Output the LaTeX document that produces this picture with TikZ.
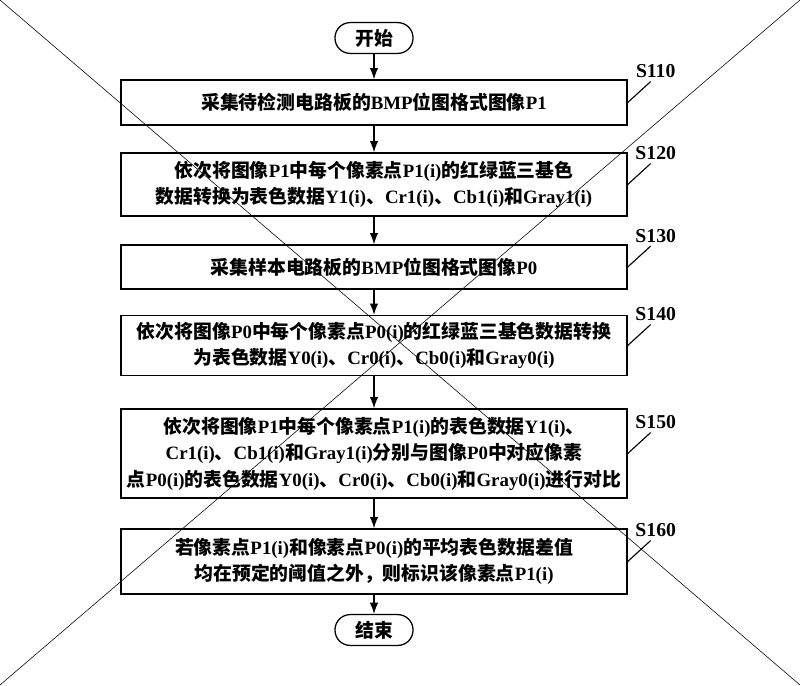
\documentclass[tikz,border=0pt]{standalone}
\usepackage{fontspec}
\setmainfont{Liberation Serif}
\newfontfamily\cjk{Noto Sans CJK SC}
\usetikzlibrary{arrows.meta,calc}
% switch to the CJK font for Chinese characters
\XeTeXinterchartokenstate=1
\chardef\hanzi=10
\newcount\hz
\def\hzrange#1#2{\hz=#1\relax\loop\XeTeXcharclass\hz=\hanzi\advance\hz by 1\relax\ifnum\hz<#2\repeat}
\hzrange{"3000}{"3040}
\hzrange{"4E00}{"A000}
\hzrange{"FF00}{"FFF0}
\XeTeXinterchartoks 0 \hanzi = {\cjk}
\XeTeXinterchartoks 4095 \hanzi = {\cjk}
\XeTeXinterchartoks \hanzi 0 = {\rmfamily}
\XeTeXinterchartoks 4095 0 = {\rmfamily}
\begin{document}
\begin{tikzpicture}[x=0.025cm,y=-0.025cm,
  stepbox/.style={draw,line width=0.9pt,minimum width=12.65cm,align=center,
    inner xsep=2pt,font=\fontsize{13.4pt}{18.8pt}\selectfont\bfseries},
  term/.style={draw,line width=0.9pt,rounded corners=0.38cm,minimum width=1.95cm,
    minimum height=0.77cm,font=\fontsize{13.4pt}{18pt}\selectfont\bfseries},
  flow/.style={-{Latex[length=8pt,width=6pt]},line width=0.9pt},
  lead/.style={line width=0.8pt},
  tag/.style={font=\fontsize{14pt}{16pt}\selectfont\bfseries,anchor=south,inner sep=1pt}]
\useasboundingbox (0,0) coordinate (tl) rectangle (800,685) coordinate (br);
\coordinate (tr) at (800,0);
\coordinate (bl) at (0,685);
\node[term] (start) at (374,38) {开始};
\node[stepbox,minimum height=1.125cm] (s110) at (374,102.5) {采集待检测电路板的BMP位图格式图像P1};
\node[stepbox,minimum height=1.575cm] (s120) at (374,184.5) {依次将图像P1中每个像素点P1(i)的红绿蓝三基色\\数据转换为表色数据Y1(i)、Cr1(i)、Cb1(i)和Gray1(i)};
\node[stepbox,minimum height=1.1cm] (s130) at (374,267) {采集样本电路板的BMP位图格式图像P0};
\node[stepbox,minimum height=1.5cm] (s140) at (374,345.5) {依次将图像P0中每个像素点P0(i)的红绿蓝三基色数据转换\\为表色数据Y0(i)、Cr0(i)、Cb0(i)和Gray0(i)};
\node[stepbox,minimum height=2.225cm] (s150) at (374,453.5) {依次将图像P1中每个像素点P1(i)的表色数据Y1(i)、\\Cr1(i)、Cb1(i)和Gray1(i)分别与图像P0中对应像素\\点P0(i)的表色数据Y0(i)、Cr0(i)、Cb0(i)和Gray0(i)进行对比};
\node[stepbox,minimum height=1.625cm] (s160) at (374,561.5) {若像素点P1(i)和像素点P0(i)的平均表色数据差值\\均在预定的阈值之外，则标识该像素点P1(i)};
\node[term] (stop) at (374,630) {结束};
\foreach \a/\b in {start/s110,s110/s120,s120/s130,s130/s140,s140/s150,s150/s160,s160/stop}
  \draw[flow] (\a) -- (\b);
\foreach \s in {110,120,130,140,150,160} {
  \draw[lead] (s\s.east) -- ++(23,-21) coordinate (c\s);
  \node[tag] (l\s) at ($(c\s)+(5,-2)$) {S\s};
}
% the cross over the sheet
\draw[line width=0.4pt] (tl) -- (br);
\draw[line width=0.4pt] (tr) -- (bl);
\end{tikzpicture}
\end{document}
